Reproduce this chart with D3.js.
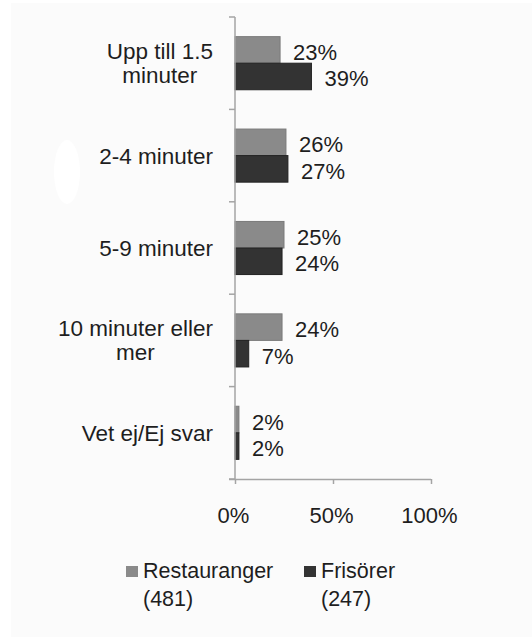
<!DOCTYPE html>
<html lang="sv">
<head>
  <meta charset="UTF-8">
  <title>Väntetid</title>
  <script src="https://d3js.org/d3.v7.min.js"></script>
  <style>
    body {
      margin: 0;
      padding: 0;
      background: #ffffff;
      font-family: "Liberation Sans", Arial, sans-serif;
    }
    text {
      fill: #1e1e1e;
    }
  </style>
</head>
<body>
  <div id="chart"></div>
  <script>
    // Data
    const categories = [
      ["Upp till 1.5", "minuter"],
      ["2-4 minuter"],
      ["5-9 minuter"],
      ["10 minuter eller", "mer"],
      ["Vet ej/Ej svar"]
    ];
    const seriesNames = ["Restauranger", "Frisörer"];
    const seriesCounts = ["(481)", "(247)"];
    const restauranger = [23, 26, 25, 24, 2];
    const frisorer = [39, 27, 24, 7, 2];
    const xTicks = [0, 50, 100];

    const width = 532;
    const height = 637;
    const colors = ["#8a8a8a", "#333333"];
    const strokes = ["#7a7a7a", "#222222"];
    const labelRight = 213;

    const svg = d3.select("#chart")
      .append("svg")
      .attr("width", width)
      .attr("height", height);

    // faint off-white backdrop of the original image
    svg.append("rect")
      .attr("x", 11).attr("y", 3)
      .attr("width", width - 11).attr("height", height - 3)
      .attr("fill", "#fbfbfb");
    svg.append("ellipse")
      .attr("cx", 67).attr("cy", 172)
      .attr("rx", 13).attr("ry", 32)
      .attr("fill", "#ffffff");

    const keys = categories.map((c, i) => i);

    const x = d3.scaleLinear().domain([0, 100]).range([235, 431]);
    const y = d3.scaleBand().domain(keys).range([17, 479]);
    const ySub = d3.scaleBand().domain([0, 1])
      .range([0, y.bandwidth()])
      .paddingInner(0)
      .paddingOuter(0.74);

    const table = keys.map(i => ({
      i,
      values: [restauranger[i], frisorer[i]]
    }));

    // bars
    const groups = svg.selectAll(".cat")
      .data(table)
      .join("g")
      .attr("class", "cat")
      .attr("transform", d => `translate(0,${y(d.i)})`);

    groups.selectAll("rect")
      .data(d => d.values.map((v, s) => ({ v, s })))
      .join("rect")
      .attr("x", x(0))
      .attr("y", d => ySub(d.s))
      .attr("width", d => x(d.v) - x(0))
      .attr("height", ySub.bandwidth())
      .attr("fill", d => colors[d.s])
      .attr("stroke", d => strokes[d.s])
      .attr("stroke-width", 1);

    groups.selectAll(".val")
      .data(d => d.values.map((v, s) => ({ v, s })))
      .join("text")
      .attr("class", "val")
      .attr("x", d => x(d.v) + 13)
      .attr("y", d => ySub(d.s) + ySub.bandwidth() / 2 + 10)
      .style("font-size", "22px")
      .text(d => d.v + "%");

    // category labels: block right-aligned, wrapped lines centred in it
    groups.each(function (d) {
      const lines = categories[d.i];
      const g = d3.select(this);
      const mid = y.bandwidth() / 2;
      if (lines.length === 1) {
        g.append("text")
          .attr("x", labelRight)
          .attr("y", mid + 8)
          .attr("text-anchor", "end")
          .style("font-size", "22.5px")
          .text(lines[0]);
      } else {
        const t = g.append("text")
          .attr("text-anchor", "middle")
          .style("font-size", "22.5px");
        const spans = lines.map((line, k) =>
          t.append("tspan")
            .attr("y", mid - 4 + k * 24)
            .text(line));
        const maxW = d3.max(spans, s => s.node().getComputedTextLength());
        spans.forEach(s => s.attr("x", labelRight - maxW / 2));
      }
    });

    // y axis line and ticks at category boundaries
    const axisColor = "#a4a4a4";
    svg.append("line")
      .attr("x1", x(0)).attr("x2", x(0))
      .attr("y1", y.range()[0]).attr("y2", y.range()[1])
      .attr("stroke", axisColor).attr("stroke-width", 1.5);

    const bounds = keys.map(k => y(k)).concat([y.range()[1]]);
    svg.selectAll(".ytick")
      .data(bounds)
      .join("line")
      .attr("class", "ytick")
      .attr("x1", x(0) - 6).attr("x2", x(0))
      .attr("y1", d => d).attr("y2", d => d)
      .attr("stroke", axisColor).attr("stroke-width", 1.5);

    // x axis
    const xAxis = svg.append("g")
      .attr("transform", `translate(0,${y.range()[1]})`)
      .call(d3.axisBottom(x)
        .tickValues(xTicks)
        .tickFormat(d => d + "%")
        .tickSize(5)
        .tickPadding(23));
    xAxis.select(".domain")
      .attr("d", `M${x(0) - 6},0.5H${x(100)}`)
      .attr("stroke", axisColor).attr("stroke-width", 1.5);
    xAxis.selectAll(".tick line")
      .attr("stroke", axisColor).attr("stroke-width", 1.5);
    xAxis.selectAll(".tick text")
      .attr("fill", "#1e1e1e")
      .attr("dx", -2)
      .style("font-size", "22px")
      .style("font-family", "'Liberation Sans', Arial, sans-serif");

    // legend
    const legendX = [126, 304];
    const legend = svg.selectAll(".leg")
      .data(seriesNames)
      .join("g")
      .attr("class", "leg")
      .attr("transform", (d, i) => `translate(${legendX[i]},566)`);
    legend.append("rect")
      .attr("width", 12).attr("height", 11)
      .attr("fill", (d, i) => colors[i]);
    legend.append("text")
      .attr("x", 17).attr("y", 12)
      .style("font-size", "21.5px")
      .text(d => d);
    legend.append("text")
      .attr("x", 17).attr("y", 40)
      .style("font-size", "21.5px")
      .text((d, i) => seriesCounts[i]);
  </script>
</body>
</html>
